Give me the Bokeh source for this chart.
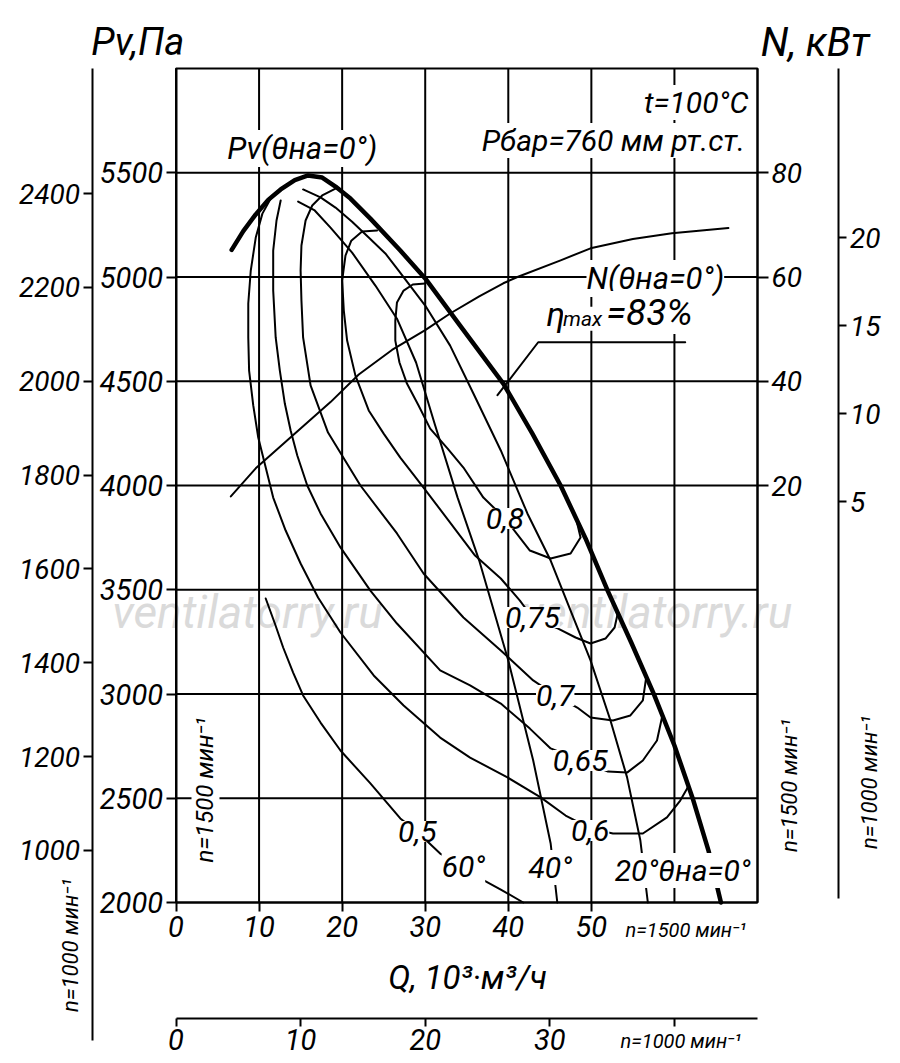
from bokeh.plotting import figure
from bokeh.models import Range1d, LinearAxis, FixedTicker, Label
from bokeh.embed import file_html
from bokeh.resources import INLINE

# ---------------- chart box (Q 10^3 m3/h and Pv Pa at n=1500) ----------------
Q_MIN, Q_MAX = 0, 70
PV_MIN, PV_MAX = 2000, 6000

# ---------------- tick values ----------------
q_ticks_1500 = [0, 10, 20, 30, 40, 50]
q_grid = [10, 20, 30, 40, 50, 60]
q_ticks_1000 = [0, 10, 20, 30, 40]
pv_ticks_1500 = [2000, 2500, 3000, 3500, 4000, 4500, 5000, 5500]
pv_grid = [2500, 3000, 3500, 4000, 4500, 5000, 5500]
pv_ticks_1000 = [1000, 1200, 1400, 1600, 1800, 2000, 2200, 2400]
n_ticks_1500 = [20, 40, 60, 80]
n_ticks_1000 = [5, 10, 15, 20]

# ---------------- curves (Q 10^3 m3/h, Pv Pa, n=1500) ----------------
pv_0_q = [6.7, 8.1, 9.6, 11.1, 12.6, 14.3, 15.9, 17.6, 19.2, 21.0, 23.4, 27.0, 30.0, 34.2,
          39.4, 42.9, 46.3, 49.3, 52.0, 54.8, 57.5, 60.0, 62.2, 64.1, 65.6]
pv_0_p = [5130, 5220, 5300, 5370, 5420, 5465, 5487, 5477, 5434, 5376, 5280, 5127, 4993, 4767,
          4489, 4249, 4000, 3746, 3492, 3247, 3002, 2753, 2499, 2249, 2000]

pv_20_q = [15.3, 17.4, 19.2, 21.2, 23.2, 25.2, 26.8, 30.0, 33.0, 35.8, 39.1, 42.3, 45.1,
           47.5, 49.9, 52.3, 54.3, 55.9, 56.8]
pv_20_p = [5420, 5382, 5333, 5265, 5189, 5113, 5031, 4863, 4671, 4441, 4168, 3866, 3640,
           3400, 3161, 2873, 2600, 2297, 2000]

pv_40_q = [14.7, 16.7, 18.6, 21.2, 24.0, 26.6, 28.9, 31.2, 33.9, 36.5, 40.0, 43.0, 45.1, 45.9]
pv_40_p = [5362, 5319, 5237, 5117, 4959, 4800, 4590, 4288, 3942, 3640, 3161, 2681, 2283, 2000]

pv_60_q = [29.0, 31.8, 34.6, 36.4, 39.1, 41.8]
pv_60_p = [2341, 2235, 2173, 2120, 2062, 2000]

eta_50_q = [10.8, 11.9, 12.9, 14.1, 15.3, 17.4, 19.8, 23.4, 27.0, 29.0]
eta_50_p = [3458, 3338, 3223, 3103, 2993, 2863, 2729, 2571, 2403, 2341]

eta_60_q = [11.6, 10.4, 9.6, 9.0, 8.7, 8.7, 8.8, 9.3, 9.9, 10.8, 11.7, 13.2, 15.0, 17.1,
            19.8, 23.8, 27.4, 31.8, 35.4, 39.9, 43.9, 46.9, 49.9, 52.6, 56.2, 59.1, 60.7, 61.6]
eta_60_p = [5391, 5304, 5189, 5031, 4873, 4710, 4551, 4384, 4230, 4086, 3942, 3784, 3626, 3463,
            3295, 3089, 2945, 2791, 2695, 2600, 2504, 2417, 2355, 2331, 2331, 2408, 2489, 2552]

eta_65_q = [12.6, 12.1, 11.7, 11.7, 12.0, 12.5, 13.1, 13.8, 14.6, 15.8, 17.4, 19.8, 23.4,
            26.6, 31.8, 35.4, 39.1, 42.6, 45.1, 48.7, 52.0, 54.3, 56.2, 57.9, 58.5]
eta_65_p = [5367, 5271, 5127, 4935, 4710, 4551, 4393, 4264, 4144, 4000, 3866, 3703, 3496,
            3338, 3113, 3041, 2954, 2834, 2739, 2681, 2628, 2623, 2681, 2777, 2887]

eta_70_q = [19.2, 17.6, 16.4, 15.6, 15.1, 15.0, 15.1, 15.3, 16.2, 18.3, 22.2, 26.6, 29.8,
            34.6, 39.1, 43.0, 45.7, 48.3, 49.9, 52.6, 54.7, 56.2, 56.6]
eta_70_p = [5424, 5391, 5343, 5271, 5151, 5031, 4887, 4710, 4480, 4254, 4000, 3770, 3578,
            3367, 3209, 3065, 2993, 2935, 2887, 2873, 2897, 2969, 3080]

eta_75_q = [24.2, 22.4, 21.1, 20.4, 20.0, 20.2, 20.6, 21.6, 23.2, 25.0, 27.0, 29.8, 33.0,
            36.0, 39.1, 41.4, 42.9, 46.0, 48.1, 49.9, 51.7, 52.8, 53.2]
eta_75_p = [5223, 5218, 5174, 5103, 4983, 4839, 4695, 4527, 4360, 4249, 4134, 3990, 3822,
            3664, 3554, 3448, 3367, 3314, 3271, 3242, 3266, 3319, 3391]

eta_80_q = [30.0, 28.5, 27.4, 26.6, 26.4, 26.4, 26.9, 27.8, 29.2, 30.6, 32.7, 34.6, 37.0,
            39.6, 42.6, 45.1, 47.5, 48.7, 48.3]
eta_80_p = [4969, 4964, 4935, 4878, 4791, 4695, 4590, 4489, 4384, 4273, 4177, 4086, 3942,
            3842, 3688, 3650, 3674, 3751, 3818]

# power N (kW, n=1500)
n_q = [6.6, 9.6, 13.4, 18.6, 22.0, 26.0, 30.0, 33.0, 36.5, 39.4, 41.1, 46.3, 49.9, 55.0, 59.7, 66.5]
n_kw = [17.9, 23.3, 28.7, 36.0, 41.3, 46.0, 49.8, 53.0, 56.3, 58.8, 60.0, 63.2, 65.5, 67.3, 68.4, 69.4]

# leader line of eta_max
leader_q = [61.3, 43.6, 38.7]
leader_p = [4687, 4687, 4433]

# ---------------- scales ----------------
K_P = (1000 / 1500) ** 2          # pressure at n=1000
K_Q = 1000 / 1500                 # flow at n=1000
K_N = (1000 / 1500) ** 3          # power at n=1000


def n_of_pv(pv):                  # power scale of the right axis (20 kW at 4000 Pa, 80 kW at 5500 Pa)
    return (pv - 3500) / 25


# canvas extent in data units (the box occupies 175..757 x 68..902 px)
W, H = 892, 1063
PX_Q = (757 - 175.5) / (Q_MAX - Q_MIN)
PX_P = (902 - 68) / (PV_MAX - PV_MIN)
X0 = Q_MIN - 175.5 / PX_Q
X1 = Q_MIN + (W - 175.5) / PX_Q
Y1 = PV_MIN + 902 / PX_P
Y0 = PV_MIN - (H - 902) / PX_P

FONT = "Roboto"
p = figure(width=W, height=H, x_range=Range1d(X0, X1), y_range=Range1d(Y0, Y1),
           output_backend="svg", toolbar_location=None,
           x_axis_location=None, y_axis_location=None,
           min_border_left=0, min_border_right=0, min_border_top=0, min_border_bottom=0)
p.background_fill_color = "white"
p.border_fill_color = "white"
p.outline_line_color = None
p.xgrid.visible = False
p.ygrid.visible = False

p.extra_y_ranges = {
    "p1000": Range1d(Y0 * K_P, Y1 * K_P),
    "n1500": Range1d(n_of_pv(Y0), n_of_pv(Y1)),
    "n1000": Range1d(n_of_pv(Y0) * K_N, n_of_pv(Y1) * K_N),
}
p.extra_x_ranges = {"q1000": Range1d(X0 * K_Q, X1 * K_Q)}


def style_axis(ax, size="29px", tick_out=10, standoff=3):
    ax.axis_line_color = "black"
    ax.axis_line_width = 2
    ax.major_tick_line_color = "black"
    ax.major_tick_line_width = 2
    ax.major_tick_in = 0
    ax.major_tick_out = tick_out
    ax.minor_tick_in = 0
    ax.minor_tick_out = 0
    ax.major_label_standoff = standoff
    ax.major_label_text_font = FONT
    ax.major_label_text_font_style = "italic"
    ax.major_label_text_font_size = size
    ax.major_label_text_color = "black"


# grid + box
p.segment(x0=q_grid, y0=[PV_MIN] * len(q_grid), x1=q_grid, y1=[PV_MAX] * len(q_grid),
          line_color="black", line_width=2)
p.segment(x0=[Q_MIN] * len(pv_grid), y0=pv_grid, x1=[Q_MAX] * len(pv_grid), y1=pv_grid,
          line_color="black", line_width=2)
p.quad(left=[Q_MIN], right=[Q_MAX], bottom=[PV_MIN], top=[PV_MAX],
       fill_color=None, line_color="black", line_width=2)

# Pv axis (n=1500)
ya = LinearAxis(ticker=FixedTicker(ticks=pv_ticks_1500), fixed_location=Q_MIN, bounds=(PV_MIN, PV_MAX))
style_axis(ya, size="29px", tick_out=10, standoff=3)
p.add_layout(ya, "left")

# outer pressure axis (n=1000), its line runs down below the box
ya2 = LinearAxis(y_range_name="p1000", ticker=FixedTicker(ticks=pv_ticks_1000),
                 fixed_location=-10, bounds=(594.7, PV_MAX * K_P))
style_axis(ya2, size="28px", tick_out=9, standoff=4)
p.add_layout(ya2, "left")

# power axis (n=1500)
yr1 = LinearAxis(y_range_name="n1500", ticker=FixedTicker(ticks=n_ticks_1500),
                 fixed_location=Q_MAX, bounds=(n_of_pv(PV_MIN), n_of_pv(PV_MAX)))
style_axis(yr1, size="28px", tick_out=11, standoff=3)
p.add_layout(yr1, "right")

# power axis (n=1000)
yr2 = LinearAxis(y_range_name="n1000", ticker=FixedTicker(ticks=n_ticks_1000),
                 fixed_location=79.8, bounds=(n_of_pv(2019) * K_N, n_of_pv(PV_MAX) * K_N))
style_axis(yr2, size="28px", tick_out=8, standoff=3)
p.add_layout(yr2, "right")

# Q axis (n=1500)
xa = LinearAxis(ticker=FixedTicker(ticks=q_ticks_1500), fixed_location=PV_MIN, bounds=(Q_MIN, Q_MAX))
style_axis(xa, size="29px", tick_out=9, standoff=4)
p.add_layout(xa, "below")

# Q axis (n=1000)
xb2 = LinearAxis(x_range_name="q1000", ticker=FixedTicker(ticks=q_ticks_1000),
                 major_label_overrides={40: ""}, fixed_location=1443.6,
                 bounds=(Q_MIN * K_Q, Q_MAX * K_Q))
style_axis(xb2, size="29px", tick_out=8, standoff=2)
p.add_layout(xb2, "below")


def lab(x, y, text, size="30px", align="center", baseline="middle", angle=0, bg=False,
        color="black", level=None, xr="default", yr="default"):
    l = Label(x=x, y=y, text=text, text_font=FONT, text_font_style="italic",
              text_font_size=size, text_align=align, text_baseline=baseline,
              angle=angle, angle_units="deg", text_color=color,
              x_range_name=xr, y_range_name=yr)
    if bg:
        l.background_fill_color = "white"
        l.background_fill_alpha = 1.0
    if level:
        l.level = level
    p.add_layout(l)


# watermark
lab(8.6, 3391, "ventilatorry.ru", size="46px", color="#dadada", level="underlay")
lab(57.9, 3391, "ventilatorry.ru", size="46px", color="#dadada", level="underlay")

# curves
thin = dict(line_color="black", line_width=2, line_join="round", line_cap="round")
p.line(n_q, n_kw, y_range_name="n1500", **thin)
for qs, ps in [(pv_20_q, pv_20_p), (pv_40_q, pv_40_p), (pv_60_q, pv_60_p),
               (eta_50_q, eta_50_p), (eta_60_q, eta_60_p), (eta_65_q, eta_65_p),
               (eta_70_q, eta_70_p), (eta_75_q, eta_75_p), (eta_80_q, eta_80_p)]:
    p.line(qs, ps, **thin)
p.line(leader_q, leader_p, **thin)
p.line(pv_0_q, pv_0_p, line_color="black", line_width=4.5, line_join="round", line_cap="round")

# curve labels
lab(39.6, 3842, "0,8", bg=True)
lab(42.9, 3367, "0,75", bg=True)
lab(45.65, 2993, "0,7", bg=True)
lab(48.65, 2681, "0,65", bg=True)
lab(49.85, 2345, "0,6", bg=True)
lab(29.05, 2341, "0,5", bg=True)
lab(34.6, 2173, "60°", bg=True)
lab(45.05, 2168, "40°", bg=True)
lab(61.0, 2153, "20°θна=0°", bg=True)
lab(15.2, 5616, "Pv(θна=0°)", size="31px", bg=True)
lab(57.7, 4993, "N(θна=0°)", size="31px", bg=True)
lab(44.6, 4822, "η", size="34px", align="left", bg=True)
lab(46.6, 4800, "max", size="21px", align="left", bg=True)
lab(51.8, 4830, "=83%", size="37px", align="left", bg=True)
lab(68.9, 5837, "t=100°C", size="30px", align="right", bg=True)
lab(68.5, 5655, "Рбар=760 мм рт.ст.", size="30px", align="right", bg=True)

# titles
lab(-10.2, 6125, "Pv,Па", size="38px", align="left", baseline="alphabetic")
lab(83.5, 6125, "N, кВт", size="40px", align="right", baseline="alphabetic")

# speed annotations
lab(3.55, 2540, "n=1500 мин⁻¹", size="24px", angle=90, bg=True)
lab(73.9, 2561, "n=1500 мин⁻¹", size="22px", angle=90)
lab(83.5, 2576, "n=1000 мин⁻¹", size="22px", angle=90)
lab(-12.7, 1794, "n=1000 мин⁻¹", size="22px", angle=90)
lab(54.1, 1866, "n=1500 мин⁻¹", size="20px", align="left")
lab(53.5, 1338, "n=1000 мин⁻¹", size="20px", align="left")
lab(35.1, 1640, "Q, 10³·м³/ч", size="33px")

open("out.html", "w").write(file_html(p, INLINE))
